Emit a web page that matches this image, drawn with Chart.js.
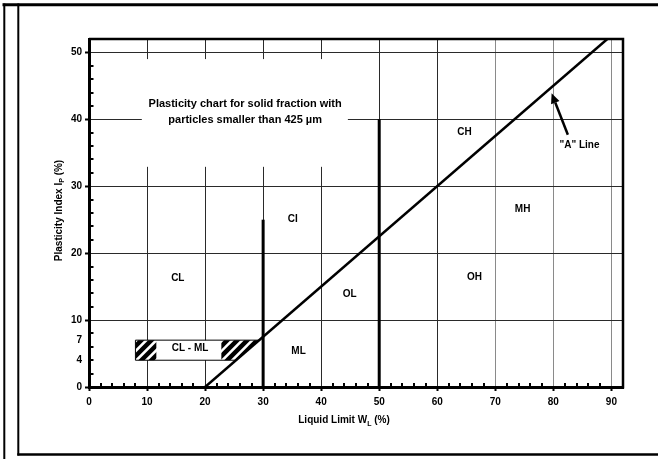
<!DOCTYPE html>
<html><head><meta charset="utf-8">
<script src="https://cdn.jsdelivr.net/npm/chart.js@4.4.1/dist/chart.umd.min.js"></script>
<style>html,body{margin:0;padding:0;background:#fff;}#wrap{width:658px;height:459px;}</style>
</head><body><div id="wrap"><canvas id="c" width="658" height="459"></canvas></div>
<script>
// ---- data ----
const xTickValues = [0, 10, 20, 30, 40, 50, 60, 70, 80, 90];
const yTickValues = [0, 4, 7, 10, 20, 30, 40, 50];
const xMinorTicks = [2,4,6,8,12,14,16,18,22,24,26,28,32,34,36,38,42,44,46,48,52,54,56,58,62,64,66,68,72,74,76,78,82,84,86,88];
const yMinorTicks = [2,4,6,8,12,14,16,18,22,24,26,28,32,34,36,38,42,44,46,48];
const aLineWL = [20, 89.3];
const aLineIP = [0, 52];
const wl30WL = [30, 30];
const wl30IP = [0, 25];
const wl50WL = [50, 50];
const wl50IP = [0, 40];
const clmlWL = [8, 8, 29.3, 25.3];
const clmlIP = [4, 7, 7, 4];
const clmlHatchWL = [[8, 11.6], [22.8, 30]];
const zoneNames = ["CL", "CI", "OL", "ML", "CH", "MH", "OH", "CL - ML", "\"A\" Line"];
const zoneWL = [15.3, 35.1, 44.9, 36.1, 64.7, 74.7, 66.4, 17.4, 84.5];
const zoneIP = [16.3, 25.1, 13.9, 5.4, 38.0, 26.6, 16.4, 5.8, 36.1];
const arrowWL = [82.5, 79.7];
const arrowIP = [37.7, 43.9];
const titleLines = ["Plasticity chart for solid fraction with", "particles smaller than 425 \u00b5m"];
const titleWL = 26.9;
const titleIP = [41.8, 39.5];
const titleBoxWL = [9.1, 44.6];
const titleBoxIP = [32.9, 49.0];

const FAM = "'Liberation Sans', Arial, Helvetica, sans-serif";
const pts = (xs, ys) => xs.map((v, i) => ({x: v, y: ys[i]}));

const decor = {
  id: 'decor',
  beforeDraw(chart) {
    const ctx = chart.ctx;
    ctx.save(); ctx.fillStyle = '#fff'; ctx.fillRect(0, 0, chart.width, chart.height); ctx.restore();
  },
  beforeDatasetsDraw(chart) {
    const {ctx, scales: {x, y}} = chart;
    ctx.save();
    // title box masks grid
    const bx0 = x.getPixelForValue(titleBoxWL[0]), bx1 = x.getPixelForValue(titleBoxWL[1]);
    const by0 = y.getPixelForValue(titleBoxIP[1]), by1 = y.getPixelForValue(titleBoxIP[0]);
    ctx.fillStyle = '#fff';
    ctx.fillRect(bx0, by0, bx1 - bx0, by1 - by0);
    // CL-ML box
    const path = () => {
      ctx.beginPath();
      clmlWL.forEach((v, i) => {
        const px = x.getPixelForValue(v), py = y.getPixelForValue(clmlIP[i]);
        if (i) ctx.lineTo(px, py); else ctx.moveTo(px, py);
      });
      ctx.closePath();
    };
    path(); ctx.fillStyle = '#fff'; ctx.fill();
    const yt = y.getPixelForValue(Math.max(...clmlIP)), yb = y.getPixelForValue(Math.min(...clmlIP));
    const h = yb - yt;
    ctx.save(); path(); ctx.clip();
    clmlHatchWL.forEach(([a, b]) => {
      const pa = x.getPixelForValue(a), pb = x.getPixelForValue(b);
      ctx.save(); ctx.beginPath(); ctx.rect(pa, yt - 2, pb - pa, h + 4); ctx.clip();
      ctx.strokeStyle = '#000'; ctx.lineWidth = 4.5;
      for (let k = pa - h - 6; k < pb + 10; k += 10) {
        ctx.beginPath(); ctx.moveTo(k, yb + 2); ctx.lineTo(k + h + 4, yt - 2); ctx.stroke();
      }
      ctx.restore();
    });
    ctx.restore();
    path(); ctx.lineWidth = 1; ctx.strokeStyle = '#000'; ctx.stroke();
    ctx.restore();
  },
  afterDatasetsDraw(chart) {
    const {ctx, scales: {x, y}, chartArea: ca} = chart;
    ctx.save();
    // minor ticks
    ctx.strokeStyle = '#000'; ctx.lineWidth = 2;
    yMinorTicks.forEach(v => {
      const py = Math.round(y.getPixelForValue(v));
      ctx.beginPath(); ctx.moveTo(ca.left + 1, py); ctx.lineTo(ca.left + 4.5, py); ctx.stroke();
    });
    xMinorTicks.forEach(v => {
      const px = Math.round(x.getPixelForValue(v));
      ctx.beginPath(); ctx.moveTo(px, ca.bottom - 1); ctx.lineTo(px, ca.bottom - 4); ctx.stroke();
    });
    // frame top and right
    ctx.lineWidth = 2.5;
    ctx.beginPath(); ctx.moveTo(ca.left, ca.top); ctx.lineTo(ca.right, ca.top); ctx.lineTo(ca.right, ca.bottom + 1.5); ctx.stroke();
    // zone labels
    ctx.fillStyle = '#000';
    ctx.font = 'bold 10px ' + FAM;
    ctx.textAlign = 'center'; ctx.textBaseline = 'middle';
    zoneNames.forEach((t, i) => ctx.fillText(t, x.getPixelForValue(zoneWL[i]), y.getPixelForValue(zoneIP[i])));
    // title
    ctx.font = 'bold 11px ' + FAM;
    ctx.textBaseline = 'alphabetic';
    titleLines.forEach((t, i) => ctx.fillText(t, x.getPixelForValue(titleWL), y.getPixelForValue(titleIP[i])));
    // arrow
    const tx = x.getPixelForValue(arrowWL[0]), ty = y.getPixelForValue(arrowIP[0]);
    const hx = x.getPixelForValue(arrowWL[1]), hy = y.getPixelForValue(arrowIP[1]);
    const ang = Math.atan2(hy - ty, hx - tx);
    const L = 10, W = 4.5;
    const bx = hx - L * Math.cos(ang), byy = hy - L * Math.sin(ang);
    ctx.lineWidth = 2.5;
    ctx.beginPath(); ctx.moveTo(tx, ty); ctx.lineTo(bx, byy); ctx.stroke();
    ctx.beginPath();
    ctx.moveTo(hx, hy);
    ctx.lineTo(bx + W * Math.sin(ang), byy - W * Math.cos(ang));
    ctx.lineTo(bx - W * Math.sin(ang), byy + W * Math.cos(ang));
    ctx.closePath(); ctx.fill();
    ctx.restore();
  },
  afterDraw(chart) {
    const ctx = chart.ctx;
    ctx.save();
    ctx.strokeStyle = '#000';
    // outer frame
    ctx.lineWidth = 3;
    ctx.beginPath(); ctx.moveTo(2.5, 4.8); ctx.lineTo(658, 4.8); ctx.stroke();
    ctx.lineWidth = 2;
    ctx.beginPath(); ctx.moveTo(4.3, 3.5); ctx.lineTo(4.3, 459); ctx.stroke();
    ctx.beginPath(); ctx.moveTo(18.3, 3.5); ctx.lineTo(18.3, 455.5); ctx.stroke();
    ctx.lineWidth = 2.5;
    ctx.beginPath(); ctx.moveTo(17.3, 454.4); ctx.lineTo(658, 454.4); ctx.stroke();
    // axis titles
    ctx.fillStyle = '#000';
    const big = 'bold 10px ' + FAM, small = 'bold 7px ' + FAM;
    const drawSub = (a, s, b, cx, base) => {
      ctx.font = big; const wa = ctx.measureText(a).width, wb = ctx.measureText(b).width;
      ctx.font = small; const ws = ctx.measureText(s).width;
      let sx = cx - (wa + ws + wb) / 2;
      ctx.textAlign = 'left'; ctx.textBaseline = 'alphabetic';
      ctx.font = big; ctx.fillText(a, sx, base); sx += wa;
      ctx.font = small; ctx.fillText(s, sx, base + 2.5); sx += ws;
      ctx.font = big; ctx.fillText(b, sx, base);
    };
    drawSub('Liquid Limit W', 'L', ' (%)', 344, 423);
    ctx.translate(61.5, 210.5); ctx.rotate(-Math.PI / 2);
    drawSub('Plasticity Index I', 'P', ' (%)', 0, 0);
    ctx.restore();
  }
};

const xGridColor = v => (v === 0 ? 'rgba(0,0,0,0)' : (v >= 70 ? '#8a8a8a' : '#2a2a2a'));
const yGridColor = v => ((v === 0 || v === 4 || v === 7) ? 'rgba(0,0,0,0)' : '#2a2a2a');
const yTickColor = v => ((v === 4 || v === 7) ? 'rgba(0,0,0,0)' : '#000');

const lineDs = (xs, ys, w) => ({data: pts(xs, ys), showLine: true, borderColor: '#000', borderWidth: w, pointRadius: 0, fill: false, borderCapStyle: 'butt'});

new Chart(document.getElementById('c'), {
  type: 'scatter',
  data: {datasets: [lineDs(wl30WL, wl30IP, 3), lineDs(wl50WL, wl50IP, 3), lineDs(aLineWL, aLineIP, 2.5)]},
  options: {
    responsive: false, animation: false, devicePixelRatio: 1,
    layout: {padding: {top: 39, right: 35, left: 0, bottom: 0}},
    plugins: {legend: {display: false}, tooltip: {enabled: false}},
    scales: {
      x: {
        type: 'linear', min: 0, max: 92,
        afterBuildTicks: s => { s.ticks = xTickValues.map(v => ({value: v})); },
        afterFit: s => { s.height = 72; },
        ticks: {font: {family: FAM, size: 10, weight: 'bold'}, color: '#000', padding: 5, maxRotation: 0, autoSkip: false, callback: v => String(v)},
        grid: {color: c => xGridColor(c.tick ? c.tick.value : -1), lineWidth: 1, drawTicks: true, tickLength: 4, tickColor: '#000', tickWidth: 2},
        border: {display: true, color: '#000', width: 3}
      },
      y: {
        type: 'linear', min: 0, max: 52,
        afterBuildTicks: s => { s.ticks = yTickValues.map(v => ({value: v})); },
        afterFit: s => { s.width = 89; },
        ticks: {font: {family: FAM, size: 10, weight: 'bold'}, color: '#000', padding: 3, autoSkip: false, callback: v => String(v)},
        grid: {color: c => yGridColor(c.tick ? c.tick.value : -1), lineWidth: 1, drawTicks: true, tickLength: 4, tickColor: c => yTickColor(c.tick ? c.tick.value : -1), tickWidth: 2},
        border: {display: true, color: '#000', width: 3}
      }
    }
  },
  plugins: [decor]
});
</script>
</body></html>
